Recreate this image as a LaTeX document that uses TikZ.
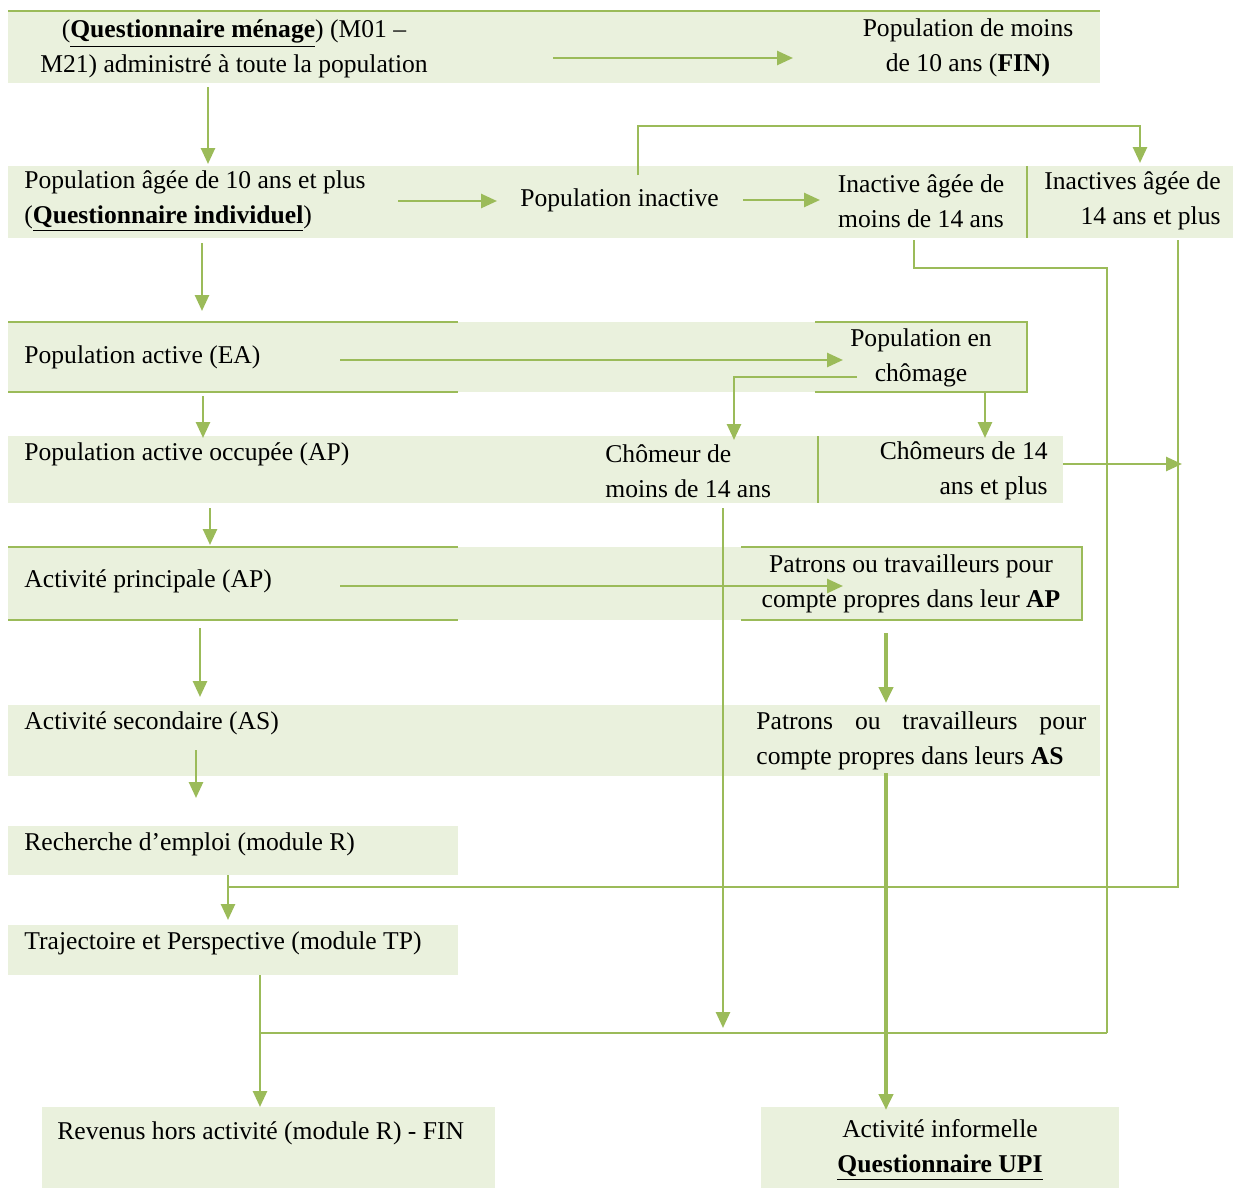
\documentclass[tikz,border=0pt]{standalone}
\usepackage{fontspec}
\setmainfont{Liberation Serif}
\usetikzlibrary{arrows.meta}
\definecolor{lg}{HTML}{9BBB59}
\definecolor{bg}{HTML}{EAF1DD}
\begin{document}
\begin{tikzpicture}[x=0.5pt,y=-0.5pt,
  conn/.style={draw=lg,line width=1.3pt},
  arr/.style={conn,-{Triangle[length=8pt,width=7pt]}},
  thickarr/.style={draw=lg,line width=2pt,-{Triangle[length=8pt,width=7pt]}},
  bgfill/.style={fill=bg},
  gline/.style={draw=lg,line width=1.3pt},
  txt/.style={inner sep=0pt,yshift=-1pt,font=\fontsize{12.8}{17.5}\selectfont}]
\useasboundingbox (0,0) rectangle (1233,1189);
% ---------- backgrounds ----------
\fill[bgfill] (8,12) rectangle (1100,83);
\draw[gline] (8,11) -- (1100,11);
\fill[bgfill] (8,166) rectangle (1233,238);
\draw[gline] (1027,166) -- (1027,238);
\fill[bgfill] (8,322) rectangle (1027,392);
\draw[gline] (8,322) -- (458,322);
\draw[gline] (8,392) -- (458,392);
\draw[gline] (815,322) -- (1027,322) -- (1027,392) -- (815,392);
\fill[bgfill] (8,436) rectangle (1063,503);
\draw[gline] (818,436) -- (818,503);
\fill[bgfill] (8,547) rectangle (1082,620);
\draw[gline] (8,547) -- (458,547);
\draw[gline] (8,620) -- (458,620);
\draw[gline] (741,547) -- (1082,547) -- (1082,620) -- (741,620);
\fill[bgfill] (8,705) rectangle (1100,776);
\fill[bgfill] (8,826) rectangle (458,875);
\fill[bgfill] (8,925) rectangle (458,975);
\fill[bgfill] (42,1107) rectangle (495,1188);
\fill[bgfill] (761,1107) rectangle (1119,1188);
% ---------- texts ----------
\node[txt,align=center] (menage) at (234,47) {(\textbf{\underline{Questionnaire ménage}}) (M01 –\\M21) administré à toute la population};
\node[txt,align=center] (moins10) at (968,46) {Population de moins\\de 10 ans (\textbf{FIN)}};
\node[txt,anchor=west,align=left] (pop10) at (24,199) {Population âgée de 10 ans et plus\\(\textbf{\underline{Questionnaire individuel}})};
\node[txt,anchor=west] (inactive) at (520,198) {Population inactive};
\node[txt,align=center] (inact14) at (921,199) {Inactive âgée de\\moins de 14 ans};
\node[txt,anchor=east,align=right] (inact14p) at (1221,199) {Inactives âgée de\\14 ans et plus};
\node[txt,anchor=west] (active) at (24,355) {Population active (EA)};
\node[txt,align=center] (chomage) at (921,356) {Population en\\chômage};
\node[txt,anchor=west] (occupee) at (24,452) {Population active occupée (AP)};
\node[txt,anchor=west,align=left] (chom14) at (605,469) {Chômeur de\\moins de 14 ans};
\node[txt,anchor=east,align=right] (chom14p) at (1048,469) {Chômeurs de 14\\ans et plus};
\node[txt,anchor=west] (princ) at (24,579) {Activité principale (AP)};
\node[txt,align=center] (patap) at (911,582) {Patrons ou travailleurs pour\\compte propres dans leur \textbf{AP}};
\node[txt,anchor=west] (second) at (24,721) {Activité secondaire (AS)};
\node[txt,anchor=west,align=left] (patas) at (756,739) {\makebox[165pt][s]{Patrons ou travailleurs pour}\\compte propres dans leurs \textbf{AS}};
\node[txt,anchor=west] (recherche) at (24,842) {Recherche d’emploi (module R)};
\node[txt,anchor=west] (traj) at (24,941) {Trajectoire et Perspective (module TP)};
\node[txt,anchor=west] (revenus) at (57,1131) {Revenus hors activité (module R) - FIN};
\node[txt,align=center] (upi) at (940,1148) {Activité informelle\\\textbf{\underline{Questionnaire UPI}}};
% ---------- connector points ----------
\coordinate (a1s) at (553,58);   \coordinate (a1e) at (793,58);
\coordinate (a2s) at (208,87);   \coordinate (a2e) at (208,164);
\coordinate (a3s) at (398,201);  \coordinate (a3e) at (497,201);
\coordinate (a4s) at (743,200);  \coordinate (a4e) at (820,200);
\coordinate (a5s) at (638,175);  \coordinate (a5a) at (638,126);
\coordinate (a5b) at (1140,126); \coordinate (a5e) at (1140,163);
\coordinate (a6s) at (202,243);  \coordinate (a6e) at (202,311);
\coordinate (a7s) at (340,360);  \coordinate (a7e) at (843,360);
\coordinate (a8s) at (857,377);  \coordinate (a8a) at (734,377);
\coordinate (a8e) at (734,440);
\coordinate (a9s) at (985,393);  \coordinate (a9e) at (985,438);
\coordinate (a10s) at (203,396); \coordinate (a10e) at (203,438);
\coordinate (a11s) at (210,508); \coordinate (a11e) at (210,545);
\coordinate (a12s) at (340,586); \coordinate (a12e) at (843,586);
\coordinate (a13s) at (200,628); \coordinate (a13e) at (200,697);
\coordinate (a14s) at (886,633); \coordinate (a14e) at (886,703);
\coordinate (a15s) at (196,750); \coordinate (a15e) at (196,798);
\coordinate (l16s) at (914,240); \coordinate (l16a) at (914,268);
\coordinate (l16b) at (1107,268);\coordinate (l16e) at (1107,1033);
\coordinate (l17s) at (1178,240);\coordinate (l17a) at (1178,887);
\coordinate (l17e) at (228,887);
\coordinate (a17s) at (228,875); \coordinate (a17e) at (228,920);
\coordinate (a18s) at (1063,464);\coordinate (a18e) at (1182,464);
\coordinate (a19s) at (723,508); \coordinate (a19e) at (723,1028);
\coordinate (l20e) at (260,1033);
\coordinate (a20s) at (260,975); \coordinate (a20e) at (260,1107);
\coordinate (a21s) at (886,773); \coordinate (a21e) at (886,1110);
% ---------- connectors ----------
\draw[arr] (a1s) -- (a1e);
\draw[arr] (a2s) -- (a2e);
\draw[arr] (a3s) -- (a3e);
\draw[arr] (a4s) -- (a4e);
\draw[arr] (a5s) -- (a5a) -- (a5b) -- (a5e);
\draw[arr] (a6s) -- (a6e);
\draw[arr] (a7s) -- (a7e);
\draw[arr] (a8s) -- (a8a) -- (a8e);
\draw[arr] (a9s) -- (a9e);
\draw[arr] (a10s) -- (a10e);
\draw[arr] (a11s) -- (a11e);
\draw[arr] (a12s) -- (a12e);
\draw[arr] (a13s) -- (a13e);
\draw[thickarr] (a14s) -- (a14e);
\draw[arr] (a15s) -- (a15e);
\draw[conn] (l16s) -- (l16a) -- (l16b) -- (l16e);
\draw[conn] (l17s) -- (l17a) -- (l17e);
\draw[arr] (a17s) -- (a17e);
\draw[arr] (a18s) -- (a18e);
\draw[arr] (a19s) -- (a19e);
\draw[conn] (l16e) -- (l20e);
\draw[arr] (a20s) -- (a20e);
\draw[thickarr] (a21s) -- (a21e);
\end{tikzpicture}
\end{document}
